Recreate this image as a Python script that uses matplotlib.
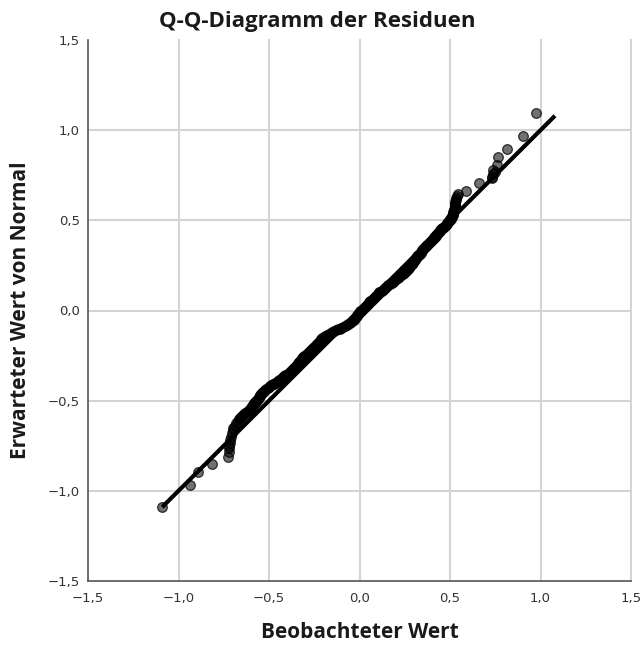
import matplotlib
matplotlib.use("Agg")
import matplotlib.pyplot as plt

title = "Q-Q-Diagramm der Residuen"
x_label = "Beobachteter Wert"
y_label = "Erwarteter Wert von Normal"
tick_values = [-1.5, -1.0, -0.5, 0.0, 0.5, 1.0, 1.5]
tick_labels = ["\u22121,5", "\u22121,0", "\u22120,5", "0,0", "0,5", "1,0", "1,5"]

# lower tail: (expected, observed)
tail_low_expected = [-1.09, -0.97, -0.895, -0.85, -0.81, -0.783, -0.765, -0.752, -0.735,
                     -0.718, -0.70, -0.681, -0.665, -0.653, -0.64, -0.625, -0.612]
tail_low_observed = [-1.089, -0.936, -0.894, -0.813, -0.728, -0.723, -0.721, -0.719, -0.717,
                     -0.715, -0.71, -0.706, -0.700, -0.697, -0.690, -0.680, -0.670]

# central body
mid_expected = [-0.60, -0.59, -0.58, -0.57, -0.56, -0.55, -0.54, -0.53, -0.52, -0.51,
                -0.50, -0.49, -0.48, -0.47, -0.46, -0.45, -0.44, -0.43, -0.42, -0.41,
                -0.40, -0.39, -0.38, -0.37, -0.36, -0.35, -0.34, -0.33, -0.32, -0.31,
                -0.30, -0.29, -0.28, -0.27, -0.26, -0.25, -0.24, -0.23, -0.22, -0.21,
                -0.20, -0.19, -0.18, -0.17, -0.16, -0.15, -0.14, -0.13, -0.12, -0.11,
                -0.10, -0.09, -0.08, -0.07, -0.06, -0.05, -0.04, -0.03, -0.02, -0.01,
                0.00, 0.01, 0.02, 0.03, 0.04, 0.05, 0.06, 0.07, 0.08, 0.09,
                0.10, 0.11, 0.12, 0.13, 0.14, 0.15, 0.16, 0.17, 0.18, 0.19,
                0.20, 0.21, 0.22, 0.23, 0.24, 0.25, 0.26, 0.27, 0.28, 0.29,
                0.30, 0.31, 0.32, 0.33, 0.34, 0.35, 0.36, 0.37, 0.38, 0.39,
                0.40, 0.41, 0.42, 0.43, 0.44, 0.45, 0.46, 0.47, 0.48, 0.49,
                0.50, 0.51, 0.52, 0.53, 0.54, 0.55, 0.56, 0.57, 0.58, 0.59, 0.60]
mid_observed = [-0.665, -0.655, -0.645, -0.630, -0.615, -0.607, -0.600, -0.592, -0.585, -0.578,
                -0.570, -0.562, -0.555, -0.548, -0.540, -0.531, -0.522, -0.508, -0.495, -0.480,
                -0.465, -0.450, -0.435, -0.422, -0.410, -0.397, -0.385, -0.372, -0.360, -0.352,
                -0.345, -0.338, -0.330, -0.320, -0.310, -0.300, -0.290, -0.279, -0.268, -0.258,
                -0.248, -0.238, -0.228, -0.219, -0.210, -0.200, -0.190, -0.170, -0.150, -0.130,
                -0.110, -0.090, -0.070, -0.055, -0.040, -0.032, -0.025, -0.016, -0.008, 0.001,
                0.010, 0.020, 0.030, 0.040, 0.050, 0.060, 0.070, 0.080, 0.090, 0.100,
                0.110, 0.122, 0.135, 0.148, 0.160, 0.172, 0.185, 0.198, 0.210, 0.222,
                0.235, 0.247, 0.258, 0.267, 0.275, 0.283, 0.290, 0.298, 0.305, 0.312,
                0.320, 0.329, 0.338, 0.345, 0.352, 0.361, 0.370, 0.380, 0.390, 0.400,
                0.410, 0.418, 0.425, 0.434, 0.442, 0.452, 0.462, 0.472, 0.482, 0.491,
                0.500, 0.505, 0.510, 0.514, 0.518, 0.521, 0.524, 0.526, 0.528, 0.529, 0.530]

# interleaved central points (between the ones above)
mid2_expected = [-0.595, -0.585, -0.575, -0.565, -0.555, -0.545, -0.535, -0.525, -0.515, -0.505,
                 -0.495, -0.485, -0.475, -0.465, -0.455, -0.445, -0.435, -0.425, -0.415, -0.405,
                 -0.395, -0.385, -0.375, -0.365, -0.355, -0.345, -0.335, -0.325, -0.315, -0.305,
                 -0.295, -0.285, -0.275, -0.265, -0.255, -0.245, -0.235, -0.225, -0.215, -0.205,
                 -0.195, -0.185, -0.175, -0.165, -0.155, -0.145, -0.135, -0.125, -0.115, -0.105,
                 -0.095, -0.085, -0.075, -0.065, -0.055, -0.045, -0.035, -0.025, -0.015, -0.005,
                 0.005, 0.015, 0.025, 0.035, 0.045, 0.055, 0.065, 0.075, 0.085, 0.095,
                 0.105, 0.115, 0.125, 0.135, 0.145, 0.155, 0.165, 0.175, 0.185, 0.195,
                 0.205, 0.215, 0.225, 0.235, 0.245, 0.255, 0.265, 0.275, 0.285, 0.295,
                 0.305, 0.315, 0.325, 0.335, 0.345, 0.355, 0.365, 0.375, 0.385, 0.395,
                 0.405, 0.415, 0.425, 0.435, 0.445, 0.455, 0.465, 0.475, 0.485, 0.495,
                 0.505, 0.515, 0.525, 0.535, 0.545, 0.555, 0.565, 0.575, 0.585, 0.595]
mid2_observed = [-0.660, -0.650, -0.638, -0.622, -0.611, -0.603, -0.596, -0.589, -0.581, -0.574,
                 -0.566, -0.558, -0.551, -0.544, -0.536, -0.526, -0.515, -0.501, -0.487, -0.472,
                 -0.457, -0.443, -0.428, -0.416, -0.403, -0.391, -0.378, -0.366, -0.356, -0.348,
                 -0.341, -0.334, -0.325, -0.315, -0.305, -0.295, -0.284, -0.273, -0.263, -0.253,
                 -0.243, -0.233, -0.223, -0.214, -0.205, -0.195, -0.180, -0.160, -0.140, -0.120,
                 -0.100, -0.080, -0.062, -0.047, -0.036, -0.028, -0.020, -0.012, -0.003, 0.005,
                 0.015, 0.025, 0.035, 0.045, 0.055, 0.065, 0.075, 0.085, 0.095, 0.105,
                 0.116, 0.128, 0.141, 0.154, 0.166, 0.178, 0.191, 0.204, 0.216, 0.228,
                 0.241, 0.252, 0.262, 0.271, 0.279, 0.286, 0.294, 0.301, 0.308, 0.316,
                 0.324, 0.333, 0.341, 0.348, 0.356, 0.365, 0.375, 0.385, 0.395, 0.405,
                 0.414, 0.421, 0.429, 0.438, 0.447, 0.457, 0.467, 0.477, 0.486, 0.495,
                 0.502, 0.507, 0.512, 0.516, 0.519, 0.522, 0.525, 0.527, 0.528, 0.530]

# upper tail
tail_high_expected = [0.612, 0.622, 0.634, 0.646, 0.665, 0.709, 0.733, 0.742, 0.755,
                      0.770, 0.779, 0.807, 0.850, 0.896, 0.970, 1.094]
tail_high_observed = [0.532, 0.533, 0.538, 0.546, 0.588, 0.662, 0.730, 0.730, 0.735,
                      0.749, 0.739, 0.758, 0.767, 0.817, 0.905, 0.973]

ref_line = [-1.09, 1.08]

fig = plt.figure(figsize=(6.43, 6.46), dpi=100)
ax = fig.add_axes([88 / 643, 65 / 646, 543 / 643, 541 / 646])
ax.set_xlim(-1.5, 1.5)
ax.set_ylim(-1.5, 1.5)

grid_c = "#d4d4d4"
for v in tick_values[1:]:
    ax.axvline(v, color=grid_c, lw=1.5, zorder=0, clip_on=False)
for v in tick_values[1:-1]:
    ax.axhline(v, color=grid_c, lw=1.5, zorder=0)

obs = tail_low_observed + mid_observed + mid2_observed + tail_high_observed
exp = tail_low_expected + mid_expected + mid2_expected + tail_high_expected
ax.scatter(obs, exp, s=48, facecolor=(0, 0, 0, 0.56), edgecolor=(0, 0, 0, 0.75),
           linewidths=0.9, zorder=3)
ax.plot(ref_line, ref_line, color="black", lw=3.0, zorder=4, solid_capstyle="butt")

for side in ["top", "right"]:
    ax.spines[side].set_visible(False)
for side in ["left", "bottom"]:
    ax.spines[side].set_color("#555555")
    ax.spines[side].set_linewidth(1.2)

ax.set_xticks(tick_values)
ax.set_yticks(tick_values)
ax.set_xticklabels(tick_labels)
ax.set_yticklabels(tick_labels)
ax.tick_params(axis="x", length=0, labelsize=9.5, colors="#333333", pad=8)
ax.tick_params(axis="y", length=0, labelsize=9.5, colors="#333333", pad=6)

fig.text(317 / 643, 1 - 22 / 646, title, ha="center", va="center", fontsize=16, fontweight="bold",
         family="Open Sans", color="#1a1a1a")
fig.text(360 / 643, 1 - 633 / 646, x_label, ha="center", va="center", fontsize=15,
         fontweight="bold", family="Open Sans", color="#1a1a1a")
ax.set_ylabel(y_label, fontsize=15, fontweight="bold", family="Open Sans", labelpad=12, color="#1a1a1a")

fig.savefig("out.png", dpi=100)
